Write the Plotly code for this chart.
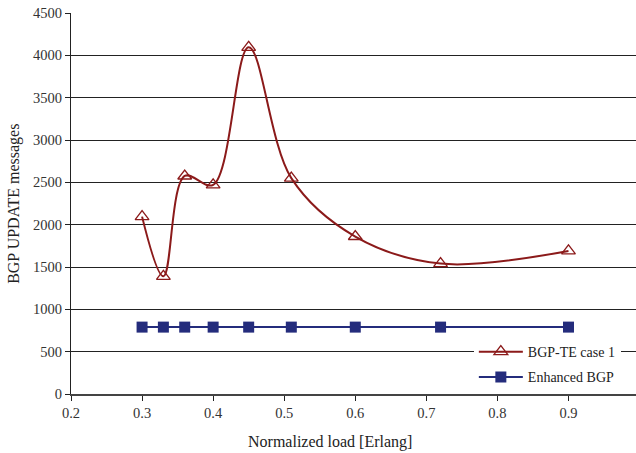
import plotly.graph_objects as go

load = [0.3, 0.33, 0.36, 0.4, 0.45, 0.51, 0.6, 0.72, 0.9]
bgp_te = [2095, 1390, 2575, 2470, 4095, 2550, 1860, 1540, 1690]
enhanced = [790, 790, 790, 790, 790, 790, 790, 790, 790]

red = "#8B1A1A"
blue = "#242C7C"
font = "Liberation Serif"

fig = go.Figure()
fig.add_trace(go.Scatter(
    x=load, y=bgp_te, name="BGP-TE case 1", mode="lines+markers", legendgroup="a",
    line=dict(color=red, width=2, shape="spline", smoothing=1.0),
    marker=dict(symbol="triangle-up-open", size=12, color=red, line=dict(width=1.3, color=red)),
))
fig.add_trace(go.Scatter(
    x=load, y=enhanced, name="Enhanced BGP", mode="lines+markers", legendgroup="b",
    line=dict(color=blue, width=2),
    marker=dict(symbol="square", size=11, color=blue),
))

fig.update_layout(
    width=636, height=453,
    margin=dict(l=71, r=0, t=13, b=59),
    paper_bgcolor="white", plot_bgcolor="white",
    font=dict(family=font, size=14.5, color="#333"),
    showlegend=True,
    legend=dict(x=0.713, y=0.152, xanchor="left", yanchor="top",
                bgcolor="white", font=dict(family=font, size=14, color="#222"),
                itemwidth=44, traceorder="grouped", tracegroupgap=4),
    xaxis=dict(
        range=[0.2, 0.995], tickvals=[0.2, 0.3, 0.4, 0.5, 0.6, 0.7, 0.8, 0.9],
        ticktext=["0.2", "0.3", "0.4", "0.5", "0.6", "0.7", "0.8", "0.9"],
        showgrid=False, zeroline=False, showline=True, linecolor="#444", linewidth=1.5,
        ticks="outside", ticklen=5, tickcolor="#222", automargin=False,
    ),
    yaxis=dict(
        range=[0, 4500], dtick=500,
        showgrid=True, gridcolor="#222", gridwidth=1.2, zeroline=False,
        showline=True, linecolor="#222", linewidth=1,
        ticks="outside", ticklen=5, tickcolor="#222", automargin=False,
    ),
    annotations=[
        dict(text="Normalized load [Erlang]", xref="paper", yref="paper",
             x=(330 - 71) / 565, y=-0.127, xanchor="center", yanchor="middle", showarrow=False,
             font=dict(family=font, size=16, color="#222")),
        dict(text="BGP UPDATE messages", xref="paper", yref="paper",
             x=-0.102, y=0.5, xanchor="center", yanchor="middle", showarrow=False,
             textangle=-90, font=dict(family=font, size=16, color="#222")),
    ],
)

fig.write_html("out.html")
